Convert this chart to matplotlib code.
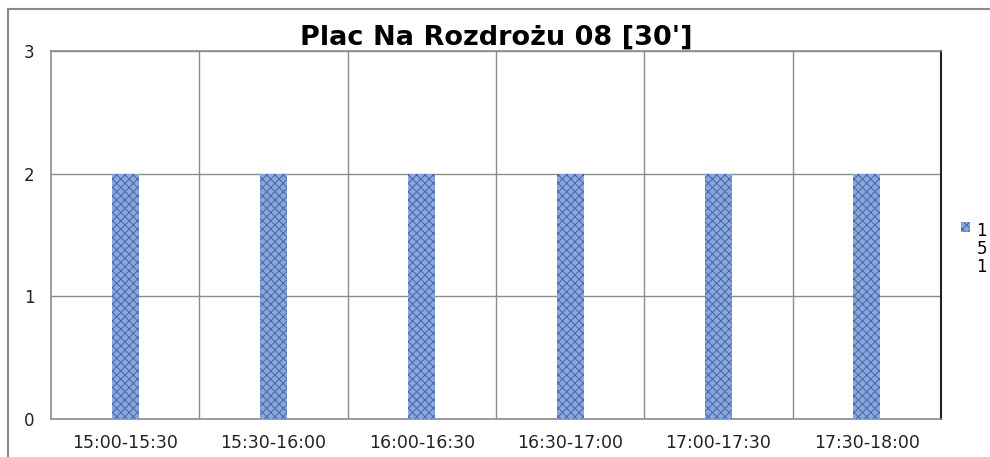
import matplotlib
matplotlib.use("Agg")
import matplotlib.pyplot as plt
from matplotlib.patches import Rectangle

categories = ["15:00-15:30", "15:30-16:00", "16:00-16:30", "16:30-17:00", "17:00-17:30", "17:30-18:00"]
values = [2, 2, 2, 2, 2, 2]
series_label = "1\n5\n1"
title = "Plac Na Rozdrożu 08 [30']"
y_ticks = [0, 1, 2, 3]

plt.rcParams["hatch.linewidth"] = 0.7

fig = plt.figure(figsize=(9.9, 4.57), dpi=100)
fig.patch.set_facecolor("white")

# outer chart frame
fig.patches.append(Rectangle((8 / 990, -0.05), 1.1, 1 - 9 / 457 + 0.05, transform=fig.transFigure,
                             fill=False, edgecolor="#8a8a8a", linewidth=1.5, zorder=0))

ax = fig.add_axes([51 / 990, 38 / 457, 890 / 990, 368 / 457])
x = list(range(len(categories)))
ax.bar(x, values, width=0.18, color="#8ba6da", edgecolor="#4466ab", hatch="xxxx",
       linewidth=0, label=series_label, zorder=3)

ax.set_xlim(-0.5, len(categories) - 0.5)
ax.set_ylim(0, 3)
ax.set_yticks(y_ticks)
ax.set_yticklabels([str(t) for t in y_ticks], fontsize=12, color="#222222")
ax.set_xticks(x)
ax.set_xticklabels(categories, fontsize=12.5, color="#222222")
ax.set_xticks([i + 0.5 for i in x[:-1]], minor=True)
ax.tick_params(axis="both", which="both", length=0)
ax.tick_params(axis="y", pad=12)
ax.tick_params(axis="x", pad=11)
ax.grid(axis="y", which="major", color="#8c8c8c", linewidth=1.0, zorder=0)
ax.grid(axis="x", which="minor", color="#8c8c8c", linewidth=1.0, zorder=0)
for s in ["left", "bottom", "top"]:
    ax.spines[s].set_color("#8c8c8c")
    ax.spines[s].set_linewidth(1.2)
ax.spines["right"].set_color("#222222")
ax.spines["right"].set_linewidth(1.5)

ax.set_title(title, fontsize=19.5, fontweight="bold", family="DejaVu Sans", pad=1)

leg = ax.legend(loc="center left", bbox_to_anchor=(1.022, 0.461), frameon=False,
                fontsize=12, handlelength=0.55, handleheight=0.55, handletextpad=0.4,
                borderpad=0, borderaxespad=0)
for t in leg.get_texts():
    t.set_linespacing(1.0)
try:
    for col in leg._legend_handle_box.get_children():
        for row in col.get_children():
            row.align = "center"
            row.align = "top"
except Exception:
    pass

fig.savefig("out.png", dpi=100, facecolor="white")
